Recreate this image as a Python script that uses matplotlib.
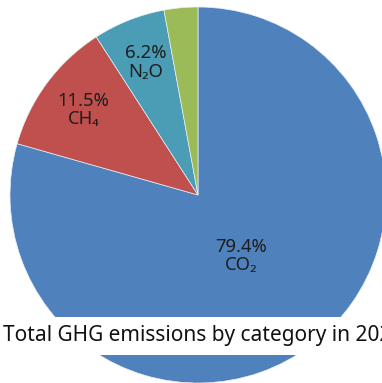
import matplotlib
matplotlib.use("Agg")
import matplotlib.pyplot as plt
import numpy as np

plt.rcParams['font.family'] = ['Noto Sans', 'DejaVu Sans']

# share of total GHG emissions, clockwise from 12 o'clock
gases = ['CO₂', 'CH₄', 'N₂O', 'F-gases']
shares = [79.4, 11.5, 6.2, 2.9]
colors = ['#4F81BD', '#C0504D', '#4A9DB5', '#9BBB59']
show_label = [True, True, True, False]

fig = plt.figure(figsize=(3.82, 3.83), dpi=100)
ax = fig.add_axes([0, 0, 1, 1])

wedges, texts = ax.pie(shares, colors=colors, startangle=90, counterclock=False,
                       radius=188, center=(0, 0), frame=True,
                       wedgeprops=dict(edgecolor='#e8eef5', linewidth=0.5))

for w, name, val, show in zip(wedges, gases, shares, show_label):
    if not show:
        continue
    ang = (w.theta1 + w.theta2) / 2
    r = 0.76 * w.r
    x = r * np.cos(np.radians(ang))
    y = r * np.sin(np.radians(ang))
    if name == 'CO₂':
        # excel "best fit" places the big label off the mid-angle
        x, y = 0.23 * w.r, -0.325 * w.r
    ax.text(x, y, f'{val}%\n{name}', ha='center', va='center',
            fontsize=13.3, color='#1e1e1e', linespacing=1.05)

ax.set_xlim(-198, 184)
ax.set_ylim(-188, 195)
ax.set_aspect('equal')
ax.axis('off')

# the title runs off the right edge in the original too
fig.text(3 / 382, 47 / 383, 'Total GHG emissions by category in 2021',
         ha='left', va='center', fontsize=15, color='#111111',
         bbox=dict(facecolor='white', edgecolor='none', pad=6.5))

fig.savefig('out.png', dpi=100)
